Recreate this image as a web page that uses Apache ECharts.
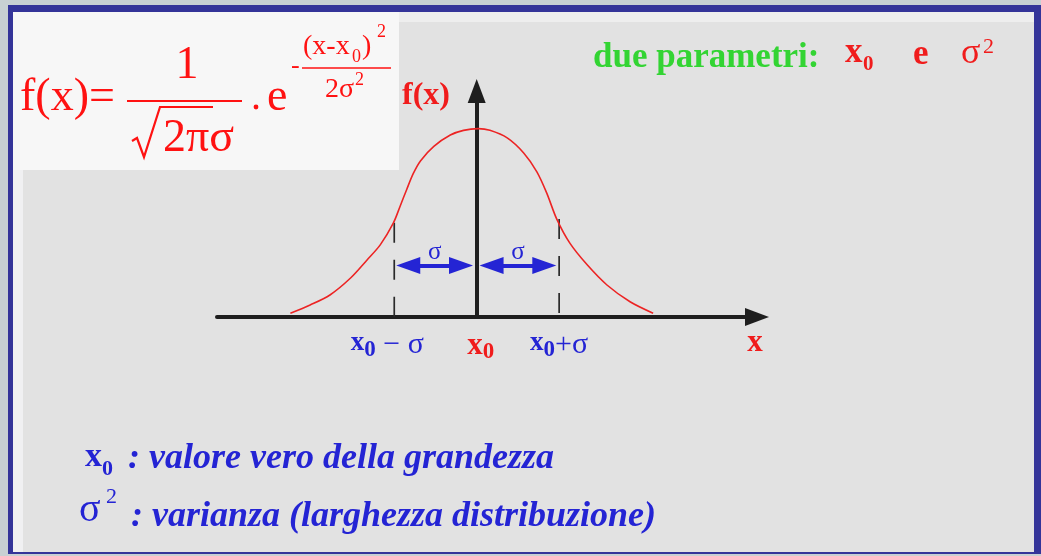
<!DOCTYPE html>
<html>
<head>
<meta charset="utf-8">
<script src="https://cdn.jsdelivr.net/npm/echarts@6/dist/echarts.min.js"></script>
<style>
html, body { margin: 0; padding: 0; background: #c8d0d3; }
#chart { width: 1041px; height: 556px; }
</style>
</head>
<body>
<div id="chart"></div>
<script>
// curva: x in unita' di sigma (x0 = 0), f normalizzata al picco
var curveX = [-2.26, -2.02, -1.78, -1.53, -1.33, -1.17, -1.01, -0.93, -0.85, -0.77, -0.68, -0.52, -0.32, -0.16, 0.02, 0.16, 0.37, 0.57, 0.73, 0.85, 0.97, 1.13, 1.34, 1.58, 1.86, 2.14];
var curveY = [0.02, 0.064, 0.117, 0.207, 0.303, 0.383, 0.50, 0.587, 0.676, 0.761, 0.830, 0.906, 0.966, 0.991, 1.0, 0.991, 0.951, 0.871, 0.771, 0.658, 0.521, 0.392, 0.277, 0.170, 0.081, 0.02];

// tacche e etichette dell'asse x
var tickValues = [-1, 0, 1];
var tickLabels = ['{xb|x}{sb|0}{rl| \u2212 \u03c3}', '{xr|x}{sr|0}', '{xb|x}{sb|0}{rb|+\u03c3}'];

// linee tratteggiate a x0 - sigma e x0 + sigma
var dashX = [-1, 1];
var dashTop = [0.50, 0.52];
var dashBottom = -0.04;

// frecce sigma (estremi = centro delle punte)
var arrowY = 0.273;
var arrowFrom = [-0.83, 0.18];
var arrowTo = [-0.19, 0.82];

var blue = '#2424d4', red = '#ec2424', redF = '#ff1212', redT = '#f01c1c', green = '#33d433', ink = '#1e1e1e';
var serif = 'Liberation Serif';

var chart = echarts.init(document.getElementById('chart'));

function txt(x, y, text, size, color, extra) {
    var st = { text: text, fill: color, fontSize: size, fontFamily: serif, align: 'left', verticalAlign: 'middle' };
    for (var k in extra) st[k] = extra[k];
    return { type: 'text', x: x, y: y, z: 10, silent: true, style: st };
}
function rect(x, y, w, h, color) {
    return { type: 'rect', z: -100, silent: true, shape: { x: x, y: y, width: w, height: h }, style: { fill: color } };
}
function seg(x1, y1, x2, y2, color, w) {
    return { type: 'line', z: 10, silent: true, shape: { x1: x1, y1: y1, x2: x2, y2: y2 }, style: { stroke: color, lineWidth: w } };
}

var series = [{
    type: 'line',
    data: curveX.map(function (x, i) { return [x, curveY[i]]; }),
    smooth: 0.3,
    showSymbol: false,
    lineStyle: { color: red, width: 1.6 },
    z: 3,
    markLine: {
        silent: true,
        symbol: ['triangle', 'triangle'],
        symbolSize: [17, 24],
        lineStyle: { color: blue, width: 4, type: 'solid' },
        label: { show: true, formatter: '\u03c3', position: 'insideMiddleTop', distance: 1, color: blue, fontSize: 25, fontFamily: serif },
        data: arrowFrom.map(function (a, i) {
            return [{ coord: [a, arrowY] }, { coord: [arrowTo[i], arrowY] }];
        })
    }
}];
dashX.forEach(function (x, i) {
    series.push({
        type: 'line',
        data: [[x, dashTop[i]], [x, dashBottom]],
        clip: false,
        showSymbol: false,
        symbol: 'none',
        lineStyle: { color: '#2a2a2a', width: 1.7, type: [20, 17] },
        z: 2
    });
});

var option = {
    animation: false,
    grid: { left: 217, right: 284, top: 91, bottom: 239 },
    xAxis: {
        type: 'value', min: -3.15, max: 3.4,
        axisLine: { show: true, onZero: true, symbol: ['none', 'triangle'], symbolSize: [18, 24], lineStyle: { color: ink, width: 4 } },
        axisTick: { show: false },
        splitLine: { show: false },
        axisLabel: {
            customValues: tickValues,
            margin: 13,
            formatter: function (v) { return tickLabels[tickValues.indexOf(v)]; },
            rich: {
                xb: { fontFamily: serif, fontWeight: 'bold', fontSize: 27, color: blue, lineHeight: 32, verticalAlign: 'top' },
                sb: { fontFamily: serif, fontWeight: 'bold', fontSize: 23, color: blue, lineHeight: 23, verticalAlign: 'bottom' },
                rl: { fontFamily: serif, fontSize: 30, color: blue, lineHeight: 32, verticalAlign: 'top', padding: [0, 14, 0, 0] },
                rb: { fontFamily: serif, fontSize: 30, color: blue, lineHeight: 32, verticalAlign: 'top' },
                xr: { fontFamily: serif, fontWeight: 'bold', fontSize: 31, color: redT, lineHeight: 34, verticalAlign: 'top', padding: [0, 0, 0, 8] },
                sr: { fontFamily: serif, fontWeight: 'bold', fontSize: 23, color: redT, lineHeight: 23, verticalAlign: 'bottom' }
            }
        }
    },
    yAxis: {
        type: 'value', min: 0, max: 1.2,
        axisLine: { show: true, onZero: true, symbol: ['none', 'triangle'], symbolSize: [18, 24], lineStyle: { color: ink, width: 4 } },
        axisTick: { show: false },
        splitLine: { show: false },
        axisLabel: { show: false }
    },
    graphic: [
        rect(0, 0, 1041, 556, '#c8d0d3'),
        rect(8, 5, 1033, 549, '#343499'),
        rect(13, 12, 1021, 540, '#e2e2e2'),
        rect(13, 12, 1021, 10, '#eeeeee'),
        rect(13, 12, 10, 540, '#f0f0f2'),
        rect(13, 12, 386, 158, '#f7f7f7'),

        // formula
        txt(20, 98, 'f(x)=', 46, redF),
        txt(187, 66, '1', 46, redF, { align: 'center' }),
        seg(127, 101, 242, 101, redF, 2),
        { type: 'polyline', z: 10, silent: true, shape: { points: [[132, 141], [137, 138], [144, 157], [160, 107], [213, 107]] }, style: { stroke: redF, lineWidth: 2.2, fill: null } },
        txt(163, 139, '2\u03c0\u03c3', 46, redF),
        { type: 'circle', z: 10, silent: true, shape: { cx: 256, cy: 107, r: 2.4 }, style: { fill: redF } },
        txt(267, 98, 'e', 46, redF),
        txt(291, 66, '-', 26, redF),
        seg(302, 68, 391, 68, redF, 1.5),
        txt(303, 47, '(x-x', 28, redF),
        txt(352, 57, '0', 18, redF),
        txt(362, 47, ')', 28, redF),
        txt(377, 32, '2', 18, redF),
        txt(325, 90, '2\u03c3', 28, redF),
        txt(355, 80, '2', 18, redF),

        // parametri
        txt(593, 58, 'due parametri:', 35, green, { fontWeight: 'bold' }),
        txt(845, 53, 'x', 35, redT, { fontWeight: 'bold' }),
        txt(863, 65, '0', 21, redT, { fontWeight: 'bold' }),
        txt(913, 55, 'e', 35, redT, { fontWeight: 'bold' }),
        txt(961, 54, '\u03c3', 36, redT),
        txt(983, 47, '2', 22, redT),

        // nomi assi
        txt(402, 96, 'f(x)', 32, redT, { fontWeight: 'bold' }),
        txt(755, 343, 'x', 31, redT, { fontWeight: 'bold', align: 'center' }),

        // legenda in basso
        txt(85, 457, 'x', 34, blue, { fontWeight: 'bold' }),
        txt(102, 469, '0', 22, blue, { fontWeight: 'bold' }),
        txt(128, 459, ': valore vero della grandezza', 36, blue, { fontWeight: 'bold', fontStyle: 'italic' }),
        txt(79, 510, '\u03c3', 40, blue),
        txt(106, 497, '2', 22, blue),
        txt(131, 517, ': varianza (larghezza distribuzione)', 36, blue, { fontWeight: 'bold', fontStyle: 'italic' })
    ],
    series: series
};
chart.setOption(option);
</script>
</body>
</html>
